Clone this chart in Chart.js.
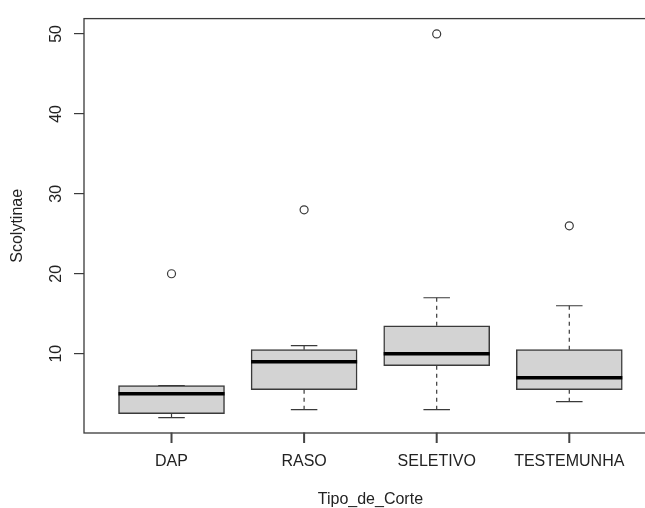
<!DOCTYPE html>
<html>
<head>
<meta charset="utf-8">
<script src="https://cdn.jsdelivr.net/npm/chart.js@4/dist/chart.umd.min.js"></script>
<style>
  html, body { margin: 0; padding: 0; background: #fff; overflow: hidden; }
  #wrap { width: 662px; height: 508px; }
</style>
</head>
<body>
<div id="wrap"><canvas id="chart" width="662" height="508"></canvas></div>
<script>
// Boxplot Scolytinae ~ Tipo_de_Corte
const categories = ['DAP', 'RASO', 'SELETIVO', 'TESTEMUNHA'];
const whiskerLow = [2, 3, 3, 4];
const q1 = [2.5, 5.5, 8.5, 5.5];
const medians = [5, 9, 10, 7];
const q3 = [6, 10.5, 13.5, 10.5];
const whiskerHigh = [6, 11, 17, 16];
const outliers = [20, 28, 50, 26];
const yTicks = [10, 20, 30, 40, 50];
const xTicks = [1, 2, 3, 4];

const lineColor = '#3a3a3a';
const textColor = '#222';

Chart.defaults.font.family = '"Liberation Sans", Arial, sans-serif';
Chart.defaults.font.size = 16;
Chart.defaults.color = textColor;

// Whisker, Staples, Median, Rahmen und x-Tickmarks (wie R bxp)
const boxExtras = {
    id: 'boxExtras',
    beforeDatasetsDraw(chart) {
        const { ctx, scales: { x, y } } = chart;
        ctx.save();
        ctx.strokeStyle = lineColor;
        ctx.lineWidth = 1.2;
        categories.forEach((c, i) => {
            const cx = x.getPixelForValue(i + 1);
            const half = (x.getPixelForValue(i + 1.2) - cx) / 2; // Staple = halbe Boxbreite
            ctx.setLineDash([4, 4]);
            ctx.beginPath();
            ctx.moveTo(cx, y.getPixelForValue(q3[i]));
            ctx.lineTo(cx, y.getPixelForValue(whiskerHigh[i]));
            ctx.moveTo(cx, y.getPixelForValue(q1[i]));
            ctx.lineTo(cx, y.getPixelForValue(whiskerLow[i]));
            ctx.stroke();
            ctx.setLineDash([]);
            ctx.beginPath();
            ctx.moveTo(cx - half, y.getPixelForValue(whiskerHigh[i]));
            ctx.lineTo(cx + half, y.getPixelForValue(whiskerHigh[i]));
            ctx.moveTo(cx - half, y.getPixelForValue(whiskerLow[i]));
            ctx.lineTo(cx + half, y.getPixelForValue(whiskerLow[i]));
            ctx.stroke();
        });
        ctx.restore();
    },
    afterDatasetsDraw(chart) {
        const { ctx, scales: { x, y } } = chart;
        ctx.save();
        ctx.strokeStyle = '#000';
        ctx.lineWidth = 3.5;
        categories.forEach((c, i) => {
            const my = y.getPixelForValue(medians[i]);
            ctx.beginPath();
            ctx.moveTo(x.getPixelForValue(i + 0.6), my);
            ctx.lineTo(x.getPixelForValue(i + 1.4), my);
            ctx.stroke();
        });
        ctx.restore();
    },
    afterDraw(chart) {
        const { ctx, chartArea: a, scales: { x } } = chart;
        ctx.save();
        ctx.setLineDash([]);
        ctx.strokeStyle = lineColor;
        ctx.lineWidth = 1.3;
        ctx.strokeRect(a.left, a.top, a.right - a.left, a.bottom - a.top);
        // Tickmarks der x-Achse
        ctx.strokeStyle = '#444';
        ctx.lineWidth = 2;
        for (let k = 0; k < xTicks.length; k++) {
            const px = x.getPixelForValue(xTicks[k]);
            ctx.beginPath();
            ctx.moveTo(px, a.bottom - 0.5);
            ctx.lineTo(px, a.bottom + 10);
            ctx.stroke();
        }
        ctx.restore();
    }
};

const ctx = document.getElementById('chart').getContext('2d');
const chart = new Chart(ctx, {
    type: 'bar',
    data: {
        datasets: [{
            type: 'bar',
            data: categories.map((c, i) => ({ x: i + 1, y: [q1[i], q3[i]] })),
            backgroundColor: '#d3d3d3',
            borderColor: lineColor,
            borderWidth: 1.5,
            borderSkipped: false,
            barThickness: 106,
            grouped: false
        }, {
            type: 'scatter',
            data: categories.map((c, i) => ({ x: i + 1, y: outliers[i] })),
            pointRadius: 4,
            pointBorderWidth: 1.2,
            borderColor: lineColor,
            backgroundColor: 'rgba(0,0,0,0)',
            showLine: false
        }]
    },
    options: {
        responsive: false,
        animation: false,
        layout: { padding: { top: 16, right: 4, left: 0, bottom: 0 } },
        plugins: { legend: { display: false }, tooltip: { enabled: false } },
        scales: {
            x: {
                type: 'linear',
                min: 0.34,
                max: 4.66,
                offset: false,
                afterBuildTicks: s => { s.ticks = xTicks.map(v => ({ value: v })); },
                afterFit: s => { s.height = 75; },
                ticks: { padding: 9, color: textColor, maxRotation: 0, autoSkip: false, callback: v => categories[v - 1] },
                grid: { display: false, drawTicks: true, tickLength: 10 },
                border: { display: false },
                title: { display: true, text: 'Tipo_de_Corte', color: textColor, font: { lineHeight: 1.0 }, padding: { top: 0, bottom: 0 } }
            },
            y: {
                type: 'linear',
                min: 0.08,
                max: 51.92,
                afterBuildTicks: s => { s.ticks = yTicks.map(v => ({ value: v })); },
                afterFit: s => { s.width = 84; },
                ticks: { padding: 9, color: textColor, minRotation: 90, maxRotation: 90, crossAlign: 'center', includeBounds: false },
                grid: { display: true, drawOnChartArea: false, drawTicks: true, tickLength: 10, tickColor: lineColor, lineWidth: 1.2 },
                border: { display: false },
                title: { display: true, text: 'Scolytinae', color: textColor, padding: { top: 8, bottom: 0 } }
            }
        }
    },
    plugins: [boxExtras]
});
</script>
</body>
</html>
